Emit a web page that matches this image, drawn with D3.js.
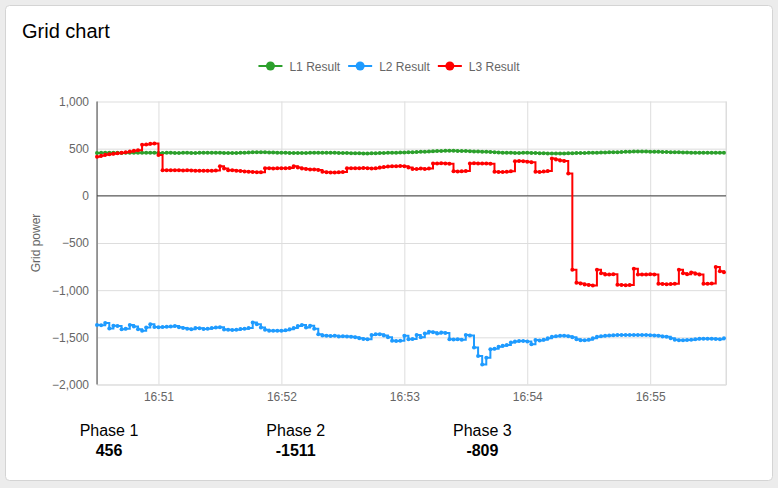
<!DOCTYPE html>
<html>
<head>
<meta charset="utf-8">
<script src="https://cdn.jsdelivr.net/npm/d3@7"></script>
<style>
    body { margin: 0; background: #ececec; }
    svg text { font-family: "Liberation Sans", Arial, sans-serif; }
</style>
</head>
<body>
<div id="chart"></div>
<script>

const width = 778
const height = 488

// samples every 2 seconds starting at 16:50:30
const startTime = new Date(2024, 0, 1, 16, 50, 30)
const endTime = new Date(2024, 0, 1, 16, 55, 37)
const sampleSeconds = 2

const seriesNames = ["L1 Result", "L2 Result", "L3 Result"]
const seriesColors = ["#2ca02c", "#1e9bff", "#ff0000"]

const l1Values = [
    455, 456, 456, 457, 456, 456, 455, 456, 457, 456,
    456, 457, 458, 457, 456, 455, 455, 456, 456, 455,
    455, 456, 456, 455, 455, 456, 457, 458, 458, 457,
    456, 455, 455, 454, 455, 456, 458, 460, 461, 462,
    462, 461, 460, 459, 458, 457, 456, 455, 455, 454,
    454, 455, 456, 456, 457, 458, 458, 457, 456, 455,
    454, 453, 452, 452, 451, 450, 450, 451, 452, 454,
    455, 456, 457, 458, 459, 460, 461, 462, 464, 466,
    468, 470, 472, 474, 476, 477, 477, 477, 476, 475,
    474, 473, 471, 470, 468, 466, 464, 462, 460, 458,
    457, 456, 455, 455, 456, 456, 455, 454, 452, 451,
    450, 449, 449, 449, 450, 451, 452, 453, 454, 455,
    456, 457, 458, 459, 460, 461, 462, 463, 465, 467,
    468, 469, 470, 470, 469, 468, 467, 466, 465, 464,
    463, 462, 461, 460, 459, 458, 457, 457, 456, 456,
    456, 456, 456, 456
]

const l2Values = [
    -1370, -1372, -1349, -1406, -1378, -1380, -1413, -1410, -1370, -1385,
    -1415, -1431, -1395, -1360, -1390, -1392, -1390, -1388, -1385, -1380,
    -1392, -1400, -1410, -1413, -1400, -1405, -1412, -1410, -1400, -1395,
    -1392, -1418, -1420, -1422, -1420, -1412, -1408, -1400, -1342, -1360,
    -1395, -1420, -1430, -1431, -1431, -1430, -1425, -1415, -1400, -1380,
    -1370, -1395, -1378, -1410, -1466, -1480, -1484, -1486, -1484, -1490,
    -1488, -1492, -1495, -1500, -1510, -1518, -1520, -1474, -1466, -1466,
    -1480, -1500, -1535, -1538, -1535, -1484, -1520, -1518, -1474, -1500,
    -1460, -1440, -1445, -1460, -1450, -1455, -1520, -1522, -1520, -1525,
    -1474, -1480, -1609, -1698, -1787, -1716, -1627, -1620, -1600, -1590,
    -1580, -1556, -1545, -1538, -1540, -1545, -1573, -1527, -1533, -1525,
    -1510, -1495, -1488, -1484, -1484, -1488, -1500, -1520, -1531, -1531,
    -1525, -1510, -1495, -1488, -1484, -1480, -1478, -1476, -1474, -1474,
    -1474, -1474, -1474, -1475, -1476, -1478, -1480, -1484, -1490, -1495,
    -1510, -1525, -1531, -1531, -1528, -1525, -1520, -1515, -1515, -1516,
    -1515, -1518, -1520, -1511
]

const l3Values = [
    413, 425, 435, 441, 447, 452, 458, 463, 470, 477,
    483, 541, 545, 552, 555, 434, 270, 272, 270, 270,
    272, 268, 270, 268, 265, 265, 265, 265, 265, 268,
    313, 290, 272, 270, 265, 262, 258, 255, 252, 250,
    250, 292, 292, 290, 292, 292, 292, 295, 313, 300,
    290, 285, 280, 280, 275, 255, 250, 248, 248, 250,
    252, 292, 292, 292, 292, 295, 292, 290, 292, 300,
    305, 310, 313, 313, 315, 313, 300, 285, 285, 290,
    285, 290, 342, 342, 345, 342, 340, 260, 258, 260,
    262, 342, 345, 342, 342, 342, 340, 255, 253, 253,
    255, 260, 366, 368, 366, 360, 355, 255, 253, 258,
    262, 395, 385, 375, 370, 238, -783, -922, -930, -940,
    -945, -950, -783, -820, -833, -833, -830, -943, -945, -948,
    -945, -772, -833, -835, -833, -830, -833, -932, -935, -938,
    -935, -932, -783, -820, -830, -812, -825, -833, -932, -932,
    -930, -755, -800, -809
]

const yTicks = [-2000, -1500, -1000, -500, 0, 500, 1000]
const phaseLabels = ["Phase 1", "Phase 2", "Phase 3"]
const phaseValues = [456, -1511, -809]

const margin = { top: 101.5, right: 52, bottom: 103.5, left: 97 }

const allSeries = [l1Values, l2Values, l3Values].map((vals, s) => ({
    name: seriesNames[s],
    color: seriesColors[s],
    points: vals.map((v, i) => ({
        t: new Date(startTime.getTime() + i * sampleSeconds * 1000),
        v: v
    }))
}))

function start() {
    const svg = d3.select("#chart").append("svg")
        .attr("width", width)
        .attr("height", height)

    // card
    svg.append("rect")
        .attr("x", 5.5).attr("y", 5.5)
        .attr("width", 767).attr("height", 475)
        .attr("rx", 4)
        .attr("fill", "white")
        .attr("stroke", "#d4d4d4")

    svg.append("text")
        .attr("x", 22).attr("y", 38)
        .attr("font-size", 20)
        .attr("fill", "#000")
        .text("Grid chart")

    const x = d3.scaleTime()
        .domain([startTime, endTime])
        .range([margin.left, width - margin.right])
    const y = d3.scaleLinear()
        .domain([-2000, 1000])
        .range([height - margin.bottom, margin.top])

    //  GRID  ///////////////////////////////////////////
    const xTicks = d3.timeMinute.range(d3.timeMinute.ceil(startTime), endTime)

    svg.append("g")
        .attr("transform", `translate(0, ${height - margin.bottom})`)
        .call(d3.axisBottom(x).tickValues(xTicks).tickFormat(d3.timeFormat("%H:%M"))
            .tickSize(-(height - margin.top - margin.bottom)).tickPadding(8))
        .call(g => g.select(".domain").attr("stroke", "#dddddd"))
        .call(g => g.selectAll(".tick line").attr("stroke", "#dddddd"))
        .call(g => g.selectAll(".tick text").attr("fill", "#666").attr("font-size", 12)
            .attr("font-family", "Liberation Sans, Arial, sans-serif"))

    svg.append("g")
        .attr("transform", `translate(${margin.left}, 0)`)
        .call(d3.axisLeft(y).tickValues(yTicks).tickFormat(d3.format(","))
            .tickSize(-(width - margin.left - margin.right)).tickPadding(8))
        .call(g => g.select(".domain").remove())
        .call(g => g.selectAll(".tick line").attr("stroke", "#dddddd"))
        .call(g => g.selectAll(".tick text").attr("fill", "#666").attr("font-size", 12)
            .attr("font-family", "Liberation Sans, Arial, sans-serif"))

    // right border
    svg.append("line")
        .attr("x1", width - margin.right).attr("x2", width - margin.right)
        .attr("y1", margin.top).attr("y2", height - margin.bottom)
        .attr("stroke", "#dddddd")

    // zero line and y axis line
    svg.append("line")
        .attr("x1", margin.left).attr("x2", width - margin.right)
        .attr("y1", y(0)).attr("y2", y(0))
        .attr("stroke", "#444")
    svg.append("line")
        .attr("x1", margin.left).attr("x2", margin.left)
        .attr("y1", margin.top).attr("y2", height - margin.bottom)
        .attr("stroke", "#444")

    svg.append("text")
        .attr("transform", `translate(40, ${(margin.top + height - margin.bottom) / 2}) rotate(-90)`)
        .attr("text-anchor", "middle")
        .attr("font-size", 12)
        .attr("fill", "#666")
        .text("Grid power")

    //  SERIES  ///////////////////////////////////////////
    const line = d3.line().x(d => x(d.t)).y(d => y(d.v)).curve(d3.curveStepAfter)

    allSeries.forEach(s => {
        const g = svg.append("g")
        g.append("path")
            .datum(s.points)
            .attr("d", line)
            .attr("fill", "none")
            .attr("stroke", s.color)
            .attr("stroke-width", 2)
        g.selectAll("circle")
            .data(s.points)
            .join("circle")
            .attr("cx", d => x(d.t))
            .attr("cy", d => y(d.v))
            .attr("r", 2)
            .attr("fill", s.color)
    })

    //  LEGEND  ///////////////////////////////////////////
    const legend = svg.append("g")
    let lx = 0
    allSeries.forEach(s => {
        const item = legend.append("g").attr("transform", `translate(${lx}, 0)`)
        item.append("line")
            .attr("x1", 0).attr("x2", 24)
            .attr("stroke", s.color).attr("stroke-width", 2)
        item.append("circle")
            .attr("cx", 12).attr("r", 4.5)
            .attr("fill", s.color)
        const t = item.append("text")
            .attr("x", 31).attr("y", 4.5)
            .attr("font-size", 12)
            .attr("fill", "#666")
            .text(s.name)
        lx += 31 + t.node().getComputedTextLength() + 8
    })
    const legendWidth = lx - 8
    legend.attr("transform", `translate(${(width - legendWidth) / 2}, 66)`)

    //  PHASE SUMMARY  ///////////////////////////////////////////
    phaseLabels.forEach((p, i) => {
        const cx = 109 + i * 186.7
        svg.append("text")
            .attr("x", cx).attr("y", 436)
            .attr("text-anchor", "middle")
            .attr("font-size", 16)
            .attr("fill", "#000")
            .text(p)
        svg.append("text")
            .attr("x", cx).attr("y", 456)
            .attr("text-anchor", "middle")
            .attr("font-size", 16)
            .attr("font-weight", "bold")
            .attr("fill", "#000")
            .text(phaseValues[i])
    })
}

start()
</script>
</body>
</html>
